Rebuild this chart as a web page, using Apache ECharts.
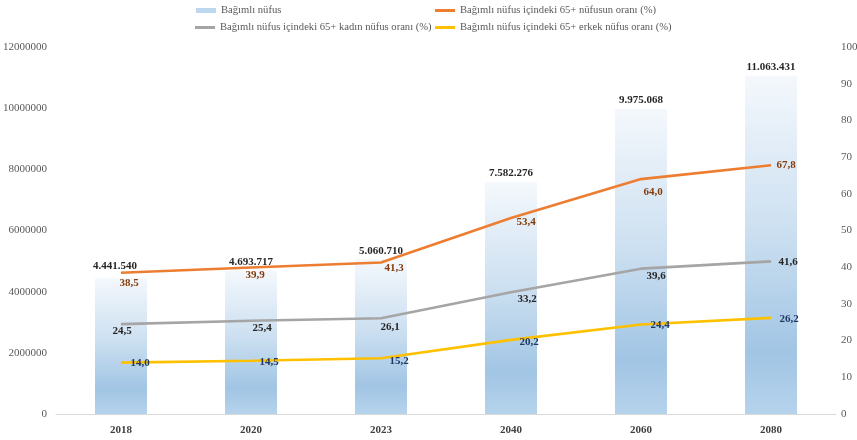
<!DOCTYPE html>
<html>
<head>
<meta charset="utf-8">
<script src="https://cdn.jsdelivr.net/npm/echarts@6/dist/echarts.min.js"></script>
<style>
  html, body { margin: 0; padding: 0; background: #ffffff; }
  #chart { width: 857px; height: 440px; }
</style>
</head>
<body>
<div id="chart"></div>
<script>
// Dependent population and the 65+ shares within it
const years = ['2018', '2020', '2023', '2040', '2060', '2080'];
const dependentPop = [4441540, 4693717, 5060710, 7582276, 9975068, 11063431];
const share65 = [38.5, 39.9, 41.3, 53.4, 64.0, 67.8];
const share65Female = [24.5, 25.4, 26.1, 33.2, 39.6, 41.6];
const share65Male = [14.0, 14.5, 15.2, 20.2, 24.4, 26.2];

const seriesNames = [
  'Bağımlı nüfus',
  'Bağımlı nüfus içindeki 65+ nüfusun oranı (%)',
  'Bağımlı nüfus içindeki 65+ kadın nüfus oranı (%)',
  'Bağımlı nüfus içindeki 65+ erkek nüfus oranı (%)'
];

// label placement (pixel offsets from each point)
const share65Offsets = [[8, 10], [4, 8], [13, 6], [15, 4], [12, 13], [15, 0]];
const femaleOffsets = [[1, 7], [11, 7], [9, 9], [16, 7], [15, 7], [17, 1]];
const maleOffsets = [[19, 1], [18, 1], [18, 3], [18, 2], [19, 1], [18, 1]];

const FONT = 'Liberation Serif';
const COLORS = { orange: '#ED7D31', gray: '#A5A5A5', yellow: '#FFC000', bar: '#BDD7EE' };

const thousands = v => String(v).replace(/\B(?=(\d{3})+(?!\d))/g, '.');
const decimalComma = v => v.toFixed(1).replace('.', ',');

function lineData(values, offsets, color) {
  return values.map((v, i) => ({
    value: v,
    label: {
      show: true,
      position: 'inside',
      offset: offsets[i],
      color: color,
      fontFamily: FONT,
      fontSize: 11,
      fontWeight: 'bold',
      formatter: p => decimalComma(p.value)
    }
  }));
}

function lineSeries(name, values, offsets, lineColor, labelColor) {
  return {
    name: name,
    type: 'line',
    yAxisIndex: 1,
    data: lineData(values, offsets, labelColor),
    symbol: 'circle',
    symbolSize: 0.5,
    showSymbol: true,
    itemStyle: { color: lineColor },
    lineStyle: { color: lineColor, width: 2.6 },
    z: 3,
    animation: false
  };
}

function legendAt(name, left, top, color, h) {
  return {
    data: [{ name: name, icon: 'rect', itemStyle: { color: color } }],
    left: left,
    top: top,
    itemWidth: 20,
    itemHeight: h,
    padding: 0,
    textStyle: { fontFamily: FONT, fontSize: 10.6, color: '#595959' }
  };
}

const chart = echarts.init(document.getElementById('chart'), null, { renderer: 'canvas' });

chart.setOption({
  backgroundColor: '#ffffff',
  animation: false,
  textStyle: { fontFamily: FONT },
  legend: [
    legendAt(seriesNames[0], 196, 5, COLORS.bar, 5),
    legendAt(seriesNames[1], 435, 5, COLORS.orange, 3),
    legendAt(seriesNames[2], 195, 22, COLORS.gray, 3),
    legendAt(seriesNames[3], 435, 22, COLORS.yellow, 3)
  ],
  grid: { left: 56, right: 21, top: 47, bottom: 26, containLabel: false, outerBoundsMode: 'none' },
  xAxis: {
    type: 'category',
    data: years,
    axisTick: { show: false },
    axisLine: { lineStyle: { color: '#D9D9D9', width: 1 } },
    axisLabel: { color: '#404040', fontFamily: FONT, fontSize: 11, fontWeight: 'bold', margin: 11 }
  },
  yAxis: [
    {
      type: 'value',
      min: 0,
      max: 12000000,
      interval: 2000000,
      splitLine: { show: false },
      axisLine: { show: false },
      axisTick: { show: false },
      axisLabel: { color: '#595959', fontFamily: FONT, fontSize: 11, margin: 9, formatter: v => String(v) }
    },
    {
      type: 'value',
      min: 0,
      max: 100,
      interval: 10,
      splitLine: { show: false },
      axisLine: { show: false },
      axisTick: { show: false },
      axisLabel: { color: '#595959', fontFamily: FONT, fontSize: 11, margin: 5, formatter: v => String(v) }
    }
  ],
  series: [
    {
      name: seriesNames[0],
      type: 'bar',
      barWidth: '40%',
      data: dependentPop.map((v, i) => ({
        value: v,
        label: i === 0 ? { offset: [-6, -4] } : {}
      })),
      itemStyle: {
        color: {
          type: 'linear', x: 0, y: 0, x2: 0, y2: 1,
          colorStops: [
            { offset: 0, color: '#F4F8FC' },
            { offset: 0.45, color: '#CDE0F1' },
            { offset: 0.82, color: '#A1C5E4' },
            { offset: 1, color: '#B6D3EC' }
          ]
        }
      },
      label: {
        show: true,
        position: 'top',
        distance: 3,
        color: '#262626',
        fontFamily: FONT,
        fontSize: 11,
        fontWeight: 'bold',
        formatter: p => thousands(p.value)
      },
      z: 2
    },
    lineSeries(seriesNames[1], share65, share65Offsets, COLORS.orange, '#843C0C'),
    lineSeries(seriesNames[2], share65Female, femaleOffsets, COLORS.gray, '#262626'),
    lineSeries(seriesNames[3], share65Male, maleOffsets, COLORS.yellow, '#1F3864')
  ]
});
</script>
</body>
</html>
